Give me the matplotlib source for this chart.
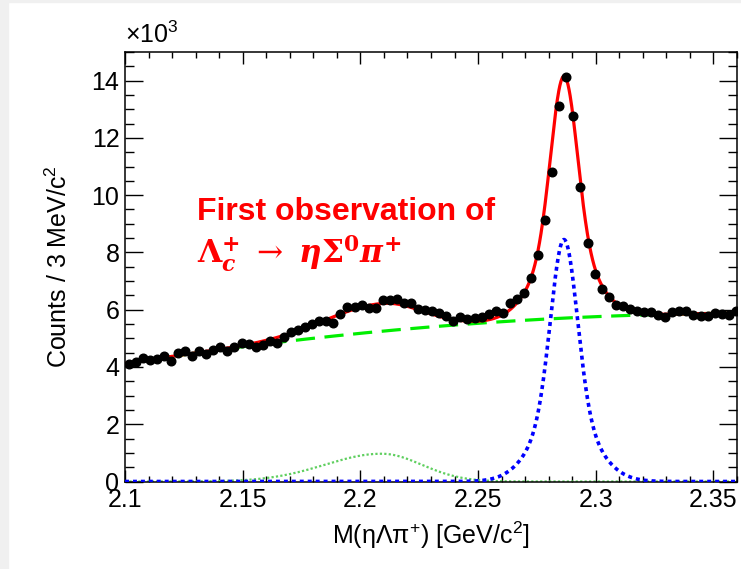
import numpy as np
import matplotlib
matplotlib.use("Agg")
import matplotlib.pyplot as plt
import matplotlib.transforms as mtransforms
from matplotlib.patches import Rectangle
from matplotlib.ticker import MultipleLocator

plt.rcParams["font.family"] = ["Liberation Sans", "DejaVu Sans"]
plt.rcParams["mathtext.fontset"] = "custom"
plt.rcParams["mathtext.rm"] = "Liberation Sans"
plt.rcParams["mathtext.it"] = "Liberation Sans:italic"
plt.rcParams["mathtext.bf"] = "Liberation Sans:bold"

# histogram: 3 MeV bins starting at 2.100 GeV, counts in units of 10^3
bin_start = 2.1
bin_width = 0.003
counts = [
    4.11, 4.17, 4.31, 4.23, 4.28, 4.37, 4.20, 4.48, 4.57, 4.37,
    4.57, 4.46, 4.60, 4.69, 4.55, 4.71, 4.85, 4.81, 4.69, 4.77,
    4.92, 4.83, 5.04, 5.21, 5.29, 5.41, 5.50, 5.62, 5.62, 5.52,
    5.85, 6.10, 6.10, 6.17, 6.06, 6.06, 6.34, 6.34, 6.37, 6.25,
    6.22, 6.02, 5.99, 5.94, 5.87, 5.79, 5.62, 5.73, 5.68, 5.71,
    5.76, 5.86, 5.94, 5.90, 6.22, 6.37, 6.60, 7.10, 7.90, 9.12,
    10.80, 13.12, 14.14, 12.77, 10.29, 8.34, 7.24, 6.74, 6.43, 6.18,
    6.14, 6.02, 5.97, 5.91, 5.91, 5.82, 5.76, 5.91, 5.97, 5.94,
    5.83, 5.79, 5.79, 5.87, 5.85, 5.82, 5.94,
]

# fit components
bkg_coef = [4.12, 12.92, -23.67]          # quadratic in (m - 2.1)
sig_mean = 2.2865
sig_amp = [6.0, 2.45]
sig_sigma = [0.0055, 0.012]
bump_mean = 2.209
bump_amp = 0.97
bump_sigma = [0.024, 0.017]               # left / right widths

mass = bin_start + bin_width * (np.arange(len(counts)) + 0.5)
m = np.linspace(2.1, 2.36, 1200)


def background(x):
    u = x - 2.1
    return bkg_coef[0] + bkg_coef[1] * u + bkg_coef[2] * u ** 2


def signal(x):
    return sum(a * np.exp(-0.5 * ((x - sig_mean) / s) ** 2)
               for a, s in zip(sig_amp, sig_sigma))


def bump(x):
    s = np.where(x < bump_mean, bump_sigma[0], bump_sigma[1])
    return bump_amp * np.exp(-0.5 * ((x - bump_mean) / s) ** 2)


fig = plt.figure(figsize=(7.41, 5.69), dpi=100)
fig.patches.append(Rectangle((0, 0), 8 / 741, 1, transform=fig.transFigure,
                             color="#f0f0f0", zorder=0))
fig.patches.append(Rectangle((0, 1 - 2 / 569), 1, 2 / 569, transform=fig.transFigure,
                             color="#f0f0f0", zorder=0))
ax = fig.add_axes([125 / 741, 87.5 / 569, 612 / 741, 429.5 / 569])

ax.plot(m, background(m), color="#00ee00", lw=2.3, ls=(0, (6, 3)), zorder=2)
ax.plot(m, bump(m), color="#5fcf5f", lw=1.6, ls=(0, (1, 1)), zorder=2)
ax.plot(m, signal(m), color="#0000ff", lw=2.6, ls=(0, (1.1, 1.1)), zorder=3)
ax.plot(m, background(m) + bump(m) + signal(m), color="red", lw=2.3, zorder=4)
ax.plot(mass, counts, "o", color="black", ms=6.2, zorder=5)

ax.set_xlim(2.1, 2.36)
ax.set_ylim(0, 15)
ax.xaxis.set_major_locator(MultipleLocator(0.05))
ax.xaxis.set_minor_locator(MultipleLocator(0.01))
ax.yaxis.set_major_locator(MultipleLocator(2))
ax.yaxis.set_minor_locator(MultipleLocator(0.5))
ax.set_xticks([2.1, 2.15, 2.2, 2.25, 2.3, 2.35])
ax.set_xticklabels(["2.1", "2.15", "2.2", "2.25", "2.3", "2.35"])
ax.tick_params(axis="both", which="both", direction="in", top=True, right=True,
               labelsize=18, width=1)
ax.tick_params(axis="x", which="major", length=8.6, pad=5)
ax.tick_params(axis="x", which="minor", length=4.3)
ax.tick_params(axis="y", which="major", length=13, pad=4)
ax.tick_params(axis="y", which="minor", length=6.5)
for sp in ax.spines.values():
    sp.set_linewidth(1.1)

# lift the "0" label a little so it does not run into "2.1"
fig.canvas.draw()
zero_lbl = ax.get_yticklabels()[0]
zero_lbl.set_transform(zero_lbl.get_transform() +
                       mtransforms.ScaledTranslation(0, 4 / 72, fig.dpi_scale_trans))

ax.set_xlabel(r"M(ηΛπ$^{+}$) [GeV/c$^{2}$]", fontsize=18, labelpad=5)
ax.set_ylabel(r"Counts / 3 MeV/c$^{2}$", fontsize=18, labelpad=14)
ax.text(0.0, 1.01, r"$\times$10$^{3}$", transform=ax.transAxes, fontsize=18,
        ha="left", va="bottom")

ax.text(0.118, 0.609, "First observation of", transform=ax.transAxes,
        color="red", fontsize=23, fontweight="bold", ha="left", va="baseline")
decay = (r"$\mathbf{\Lambda}_{\boldsymbol{c}}^{\mathbf{+}}\ \rightarrow\ "
         r"\boldsymbol{\eta}\mathbf{\Sigma}^{\mathbf{0}}\boldsymbol{\pi}^{\mathbf{+}}$")
ax.text(0.118, 0.508, decay, transform=ax.transAxes, color="red", fontsize=22.5,
        math_fontfamily="dejavuserif", ha="left", va="baseline")

fig.savefig("out.png", dpi=100)
